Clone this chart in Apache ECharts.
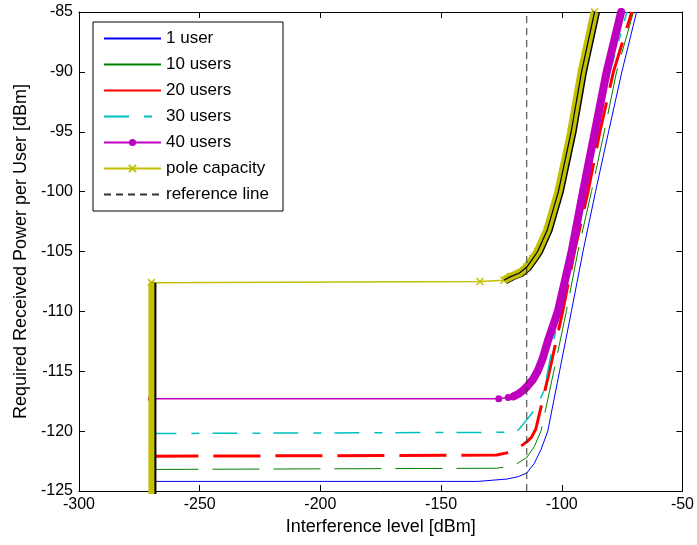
<!DOCTYPE html>
<html>
<head>
<meta charset="utf-8">
<script src="https://cdn.jsdelivr.net/npm/echarts@6/dist/echarts.min.js"></script>
<style>
  html, body { margin: 0; background: #fff; }
  #chart { width: 697px; height: 545px; }
</style>
</head>
<body>
<div id="chart"></div>
<script>
// axis ranges / ticks
const xMin = -300, xMax = -50, xStep = 50
const yMin = -125, yMax = -85, yStep = 5

// [interference dBm, required power dBm]
const users1 = [[-270, -124.2], [-134.8, -124.2], [-122.6, -124.0], [-118, -123.8], [-114.5, -123.5],
  [-111.4, -122.7], [-108.5, -121.5], [-105.8, -120], [-100.9, -115], [-96, -110], [-91.2, -105],
  [-86, -100], [-80.6, -95], [-75.1, -90], [-69, -85]]
const users10 = [[-270, -123.2], [-127, -123.1], [-120, -122.9], [-114.5, -122.2], [-111.4, -121.3],
  [-108.6, -120], [-103.3, -115], [-98.1, -110], [-93.3, -105], [-87.7, -100], [-82.4, -95],
  [-77.3, -90], [-70.3, -85]]
const users20 = [[-270, -122.1], [-127, -122.0], [-120, -121.7], [-114.5, -120.9], [-112.5, -120.5],
  [-110.7, -119.8], [-105.1, -115], [-99.6, -110], [-94.7, -105], [-89.1, -100], [-84.2, -95],
  [-78.6, -90], [-71, -85]]
const users30 = [[-270, -120.2], [-122, -120.1], [-118, -119.9], [-116.3, -119.5], [-110.7, -118.1],
  [-107.3, -116.6], [-105.8, -115], [-100.9, -110], [-95.8, -105], [-90.5, -100], [-85.2, -95],
  [-80, -90], [-73, -85]]
const users40 = [[-270, -117.3], [-126.1, -117.3], [-122.2, -117.2], [-120, -117.1], [-118, -116.9],
  [-116, -116.6], [-114.5, -116.3], [-112, -115.7], [-110, -115], [-108, -114], [-105.8, -112.5],
  [-101.6, -110], [-95.9, -105], [-91.2, -100], [-86.3, -95], [-81.4, -90], [-75.4, -85]]
const poleCapacity = [[-270, -126], [-270, -107.6], [-133.9, -107.5], [-124, -107.4], [-121.2, -107.1],
  [-117.5, -106.8], [-114.5, -106.3], [-112, -105.6], [-110, -105], [-106, -103.2], [-101.4, -100],
  [-96.1, -95], [-91.8, -90], [-86.4, -85]]
const refLine = [[-114.5, -125], [-114.5, -85]]

const font = 'Liberation Sans, Arial, sans-serif'
const yellow = '#c2c000'
const magenta = '#bf00bf'
const xMark = 'path://M0,0L10,10M10,0L0,10'

const chart = echarts.init(document.getElementById('chart'))

function axisBase(extra) {
  return Object.assign({
    type: 'value',
    axisLine: { show: true, onZero: false, lineStyle: { color: '#000', width: 1 } },
    axisTick: { show: true, inside: true, length: 6, lineStyle: { color: '#000' } },
    splitLine: { show: false }
  }, extra)
}

chart.setOption({
  animation: false,
  textStyle: { fontFamily: font },
  grid: { left: 79, right: 12, top: 12, bottom: 54 },
  legend: {
    orient: 'vertical',
    left: 93,
    top: 22,
    padding: [8, 14, 8, 10],
    itemWidth: 57,
    itemHeight: 9,
    itemGap: 9,
    backgroundColor: '#fff',
    borderColor: '#000',
    borderWidth: 1,
    borderRadius: 0,
    textStyle: { fontSize: 17, color: '#000', fontFamily: font, lineHeight: 17 },
    data: [
      { name: '1 user', itemStyle: { opacity: 0 } },
      { name: '10 users', itemStyle: { opacity: 0 }, lineStyle: { type: 'solid' } },
      { name: '20 users', itemStyle: { opacity: 0 }, lineStyle: { type: 'solid' } },
      { name: '30 users', itemStyle: { opacity: 0 } },
      { name: '40 users' },
      { name: 'pole capacity' },
      { name: 'reference line', itemStyle: { opacity: 0 } }
    ]
  },
  xAxis: [
    axisBase({
      min: xMin, max: xMax, interval: xStep, position: 'bottom',
      axisLabel: { fontSize: 16, color: '#000', margin: 6, fontFamily: font },
      name: 'Interference level [dBm]', nameLocation: 'middle', nameGap: 26,
      nameTextStyle: { fontSize: 18, color: '#000', fontFamily: font }
    }),
    axisBase({ min: xMin, max: xMax, interval: xStep, position: 'top', axisLabel: { show: false } })
  ],
  yAxis: [
    axisBase({
      min: yMin, max: yMax, interval: yStep, position: 'left',
      axisLabel: { fontSize: 16, color: '#000', margin: 6, fontFamily: font },
      name: 'Required Received Power per User [dBm]', nameLocation: 'middle', nameGap: 46,
      nameTextStyle: { fontSize: 18, color: '#000', fontFamily: font }
    }),
    axisBase({ min: yMin, max: yMax, interval: yStep, position: 'right', axisLabel: { show: false } })
  ],
  series: [
    {
      name: '1 user', type: 'line', data: users1, symbol: 'none',
      lineStyle: { color: '#0000ff', width: 1 }, itemStyle: { color: '#0000ff' }
    },
    {
      name: '10 users', type: 'line', data: users10, symbol: 'none',
      lineStyle: { color: '#008000', width: 1, type: [47, 14] }, itemStyle: { color: '#008000' }
    },
    {
      name: '20 users', type: 'line', data: users20, symbol: 'none',
      lineStyle: { color: '#ff0000', width: 3, type: [47, 15] }, itemStyle: { color: '#ff0000' }
    },
    {
      name: '30 users', type: 'line', data: users30, symbol: 'none',
      lineStyle: { color: '#00bfbf', width: 1.5, type: [25, 15, 8, 13] }, itemStyle: { color: '#00bfbf' }
    },
    {
      name: '40 users', type: 'line', data: users40, symbol: 'circle', symbolSize: 7, showAllSymbol: true,
      lineStyle: { color: magenta, width: 1.5 }, itemStyle: { color: magenta }
    },
    {
      // dense markers merge into a thick band
      name: '40 users dense', type: 'line', data: users40.slice(3), symbol: 'none',
      lineStyle: { color: magenta, width: 8, cap: 'round', join: 'round' }
    },
    {
      name: 'pole capacity', type: 'line', data: poleCapacity, symbol: xMark, symbolSize: 7, showAllSymbol: true,
      z: 3,
      lineStyle: { color: yellow, width: 1.5 },
      itemStyle: { color: yellow, borderColor: yellow, borderWidth: 1.5 }
    },
    {
      name: 'pole dense vertical', type: 'line', data: poleCapacity.slice(0, 2), symbol: 'none', z: 4,
      lineStyle: { color: yellow, width: 6, shadowColor: '#000', shadowBlur: 0, shadowOffsetX: 2 }
    },
    {
      name: 'pole dense curve', type: 'line', data: poleCapacity.slice(3), symbol: 'none', z: 4,
      lineStyle: { color: yellow, width: 8, join: 'round', shadowColor: '#000', shadowBlur: 0, shadowOffsetX: 1.5 }
    },
    {
      name: 'pole dense core', type: 'line', data: poleCapacity.slice(3), symbol: 'none', z: 4,
      lineStyle: { color: '#000', width: 1.2 }
    },
    {
      name: 'reference line', type: 'line', data: refLine, symbol: 'none', z: 5,
      lineStyle: { color: '#333', width: 1, type: [7, 5] }, itemStyle: { color: '#333' }
    }
  ]
})
</script>
</body>
</html>
